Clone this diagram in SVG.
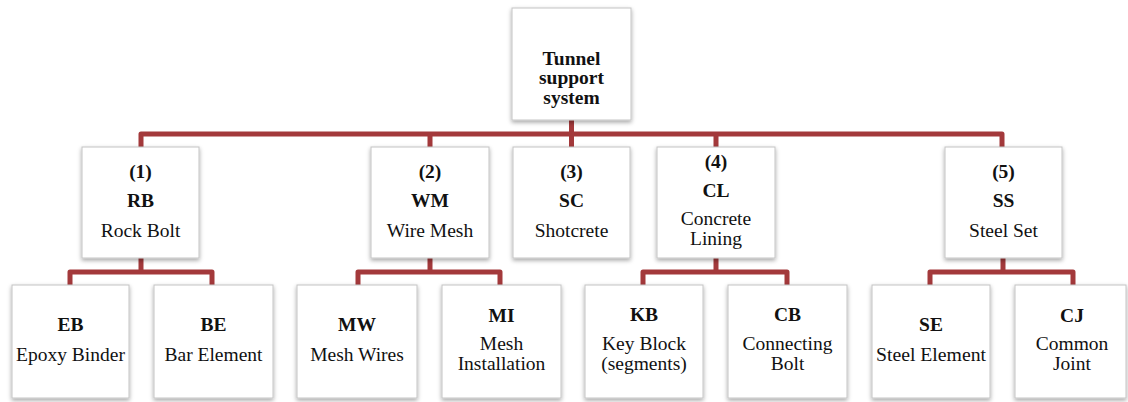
<svg xmlns="http://www.w3.org/2000/svg" width="1128" height="402" viewBox="0 0 1128 402">
<defs>
<filter id="sh" x="-20%" y="-20%" width="140%" height="140%">
<feDropShadow dx="0" dy="2" stdDeviation="2" flood-color="#000" flood-opacity="0.35"/>
</filter>
</defs>
<style>
.box{fill:#fff;stroke:#c4c4c4;stroke-width:1;filter:url(#sh)}
.conn{fill:none;stroke:#a3393b;stroke-width:5;stroke-linejoin:round}
text{font-family:"Liberation Serif","Times New Roman",serif;font-size:19.5px;fill:#111;text-anchor:middle}
.b{font-weight:bold}
</style>
<g id="connectors">
<path class="conn" d="M571.5,120 V134"/>
<path class="conn" d="M141,147 V134 H1002 V147"/>
<path class="conn" d="M430,134 V147 M571.5,134 V147 M716,134 V147"/>
<path class="conn" d="M141,258 V272"/>
<path class="conn" d="M70,285 V272 H212 V285"/>
<path class="conn" d="M430,258 V272"/>
<path class="conn" d="M358,285 V272 H500 V285"/>
<path class="conn" d="M716,258 V272"/>
<path class="conn" d="M643,285 V272 H787 V285"/>
<path class="conn" d="M1003,258 V272"/>
<path class="conn" d="M930,285 V272 H1073 V285"/>
</g>
<g id="root">
<rect class="box" x="512" y="8" width="119" height="112"/>
<text class="b" x="571.5" y="65">Tunnel</text>
<text class="b" x="571.5" y="84">support</text>
<text class="b" x="571.5" y="104">system</text>
</g>
<g id="RB">
<rect class="box" x="82" y="147" width="117" height="111"/>
<text class="b" x="140.5" y="178">(1)</text>
<text class="b" x="140.5" y="207">RB</text>
<text x="140.5" y="237">Rock Bolt</text>
</g>
<g id="WM">
<rect class="box" x="371" y="147" width="118" height="111"/>
<text class="b" x="430" y="178">(2)</text>
<text class="b" x="430" y="207">WM</text>
<text x="430" y="237">Wire Mesh</text>
</g>
<g id="SC">
<rect class="box" x="513" y="147" width="117" height="111"/>
<text class="b" x="571.5" y="178">(3)</text>
<text class="b" x="571.5" y="207">SC</text>
<text x="571.5" y="237">Shotcrete</text>
</g>
<g id="CL">
<rect class="box" x="657" y="147" width="118" height="111"/>
<text class="b" x="716" y="168">(4)</text>
<text class="b" x="716" y="197">CL</text>
<text x="716" y="225">Concrete</text>
<text x="716" y="245">Lining</text>
</g>
<g id="SS">
<rect class="box" x="945" y="147" width="117" height="111"/>
<text class="b" x="1003.5" y="178">(5)</text>
<text class="b" x="1003.5" y="207">SS</text>
<text x="1003.5" y="237">Steel Set</text>
</g>
<g id="EB">
<rect class="box" x="12" y="285" width="117" height="113"/>
<text class="b" x="70.5" y="331">EB</text>
<text x="70.5" y="361">Epoxy Binder</text>
</g>
<g id="BE">
<rect class="box" x="154" y="285" width="119" height="113"/>
<text class="b" x="213.5" y="331">BE</text>
<text x="213.5" y="361">Bar Element</text>
</g>
<g id="MW">
<rect class="box" x="297" y="285" width="120" height="113"/>
<text class="b" x="357" y="331">MW</text>
<text x="357" y="361">Mesh Wires</text>
</g>
<g id="MI">
<rect class="box" x="442" y="285" width="119" height="113"/>
<text class="b" x="501.5" y="322">MI</text>
<text x="501.5" y="350">Mesh</text>
<text x="501.5" y="370">Installation</text>
</g>
<g id="KB">
<rect class="box" x="585" y="285" width="118" height="113"/>
<text class="b" x="644" y="321">KB</text>
<text x="644" y="350">Key Block</text>
<text x="644" y="370">(segments)</text>
</g>
<g id="CB">
<rect class="box" x="728" y="285" width="119" height="113"/>
<text class="b" x="787.5" y="321">CB</text>
<text x="787.5" y="350">Connecting</text>
<text x="787.5" y="370">Bolt</text>
</g>
<g id="SE">
<rect class="box" x="872" y="285" width="118" height="113"/>
<text class="b" x="931" y="331">SE</text>
<text x="931" y="361" textLength="110" lengthAdjust="spacingAndGlyphs">Steel Element</text>
</g>
<g id="CJ">
<rect class="box" x="1015" y="285" width="111" height="113"/>
<text class="b" x="1072" y="322">CJ</text>
<text x="1072" y="350">Common</text>
<text x="1072" y="370">Joint</text>
</g>
</svg>
